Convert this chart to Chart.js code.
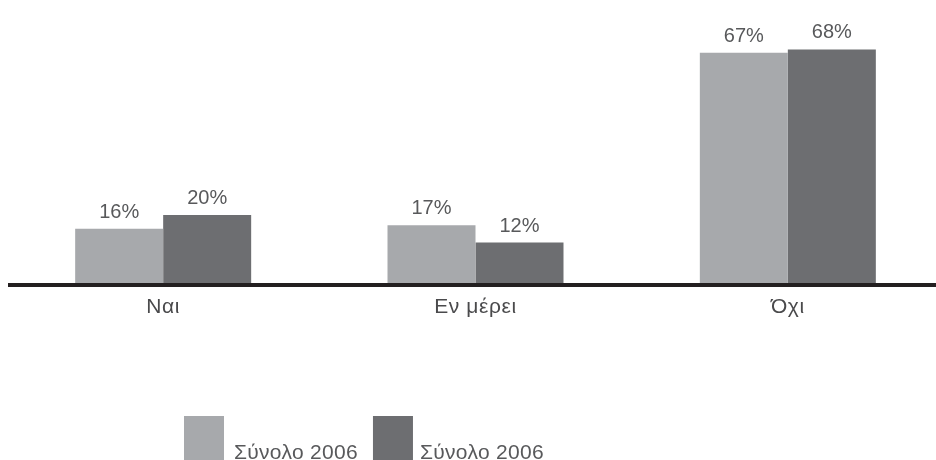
<!DOCTYPE html>
<html>
<head>
<meta charset="utf-8">
<script src="https://cdn.jsdelivr.net/npm/chart.js@4.4.1/dist/chart.umd.min.js"></script>
<style>
  html, body { margin: 0; padding: 0; background: #ffffff; overflow: hidden; }
  #wrap { position: relative; width: 945px; height: 460px; }
</style>
</head>
<body>
<div id="wrap"><canvas id="c"></canvas></div>
<script>
const categories = ['Ναι', 'Εν μέρει', 'Όχι'];
const seriesLabels = ['Σύνολο 2006', 'Σύνολο 2006'];
const seriesA = [16, 17, 67];
const seriesB = [20, 12, 68];

const COLORS = ['#a7a9ac', '#6d6e71'];
const FONT = '"Liberation Sans", Arial, Helvetica, sans-serif';

const spacing = {
  id: 'spacing',
  beforeDraw(chart) { chart.ctx.letterSpacing = '0.6px'; }
};

const valueLabels = {
  id: 'valueLabels',
  afterDatasetsDraw(chart) {
    const ctx = chart.ctx;
    ctx.save();
    ctx.letterSpacing = '0px';
    ctx.font = '20px ' + FONT;
    ctx.fillStyle = '#58595b';
    ctx.textAlign = 'center';
    ctx.textBaseline = 'alphabetic';
    chart.data.datasets.forEach((ds, i) => {
      const meta = chart.getDatasetMeta(i);
      meta.data.forEach((bar, j) => {
        ctx.fillText(ds.data[j] + '%', bar.x, bar.y - 11);
      });
    });
    // baseline axis line
    const y0 = chart.scales.y.getPixelForValue(0);
    ctx.strokeStyle = '#231f20';
    ctx.lineWidth = 4;
    ctx.beginPath();
    ctx.moveTo(chart.chartArea.left + 1, y0 + 1);
    ctx.lineTo(chart.chartArea.right, y0 + 1);
    ctx.stroke();
    ctx.restore();
  }
};

const customLegend = {
  id: 'customLegend',
  afterDraw(chart) {
    const ctx = chart.ctx;
    ctx.save();
    ctx.letterSpacing = '0.3px';
    ctx.font = '21px ' + FONT;
    ctx.textBaseline = 'alphabetic';
    ctx.textAlign = 'left';
    let x = 184;
    const boxTop = 416, boxW = 40;
    chart.data.datasets.forEach((ds, i) => {
      ctx.fillStyle = ds.backgroundColor;
      ctx.fillRect(x, boxTop, boxW, chart.height - boxTop);
      x += boxW + (i === 0 ? 10 : 7);
      ctx.fillStyle = '#58595b';
      ctx.fillText(ds.label, x, 459);
      x += ctx.measureText(ds.label).width + 15;
    });
    ctx.restore();
  }
};

new Chart(document.getElementById('c'), {
  type: 'bar',
  data: {
    labels: categories,
    datasets: [
      { label: seriesLabels[0], data: seriesA, backgroundColor: COLORS[0] },
      { label: seriesLabels[1], data: seriesB, backgroundColor: COLORS[1] }
    ]
  },
  options: {
    responsive: true,
    maintainAspectRatio: false,
    animation: false,
    layout: { padding: { left: 7, right: 1, top: 8, bottom: 0 } },
    datasets: { bar: { categoryPercentage: 0.5635, barPercentage: 1.0 } },
    plugins: { legend: { display: false }, tooltip: { enabled: false } },
    scales: {
      x: {
        grid: { display: false },
        border: { display: false },
        ticks: { color: '#4a4a4c', font: { family: FONT, size: 21 }, padding: 3 },
        afterFit(scale) { scale.height = 176; }
      },
      y: {
        display: false,
        min: 0,
        max: 80
      }
    }
  },
  plugins: [spacing, valueLabels, customLegend]
});
</script>
</body>
</html>
